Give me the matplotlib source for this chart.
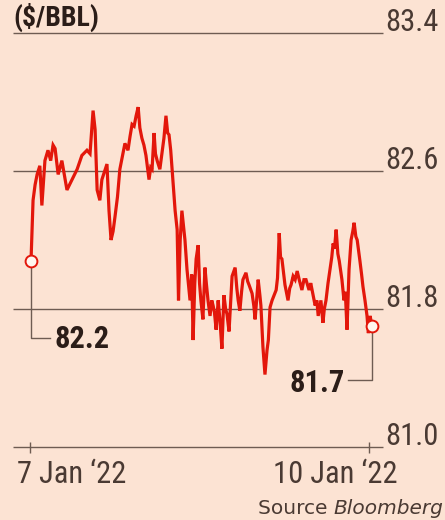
import matplotlib
matplotlib.use("Agg")
import matplotlib.pyplot as plt
from matplotlib import font_manager

# Brent crude, intraday, $/bbl  (x: 0 = 7 Jan tick, 100 = 10 Jan tick)
t = [0.3, 0.9, 1.5, 2.1, 2.9, 3.5, 4.4, 5.3, 6.1, 6.8,
     7.4, 8.3, 9.4, 10.9, 12.4, 13.9, 15.3, 16.8, 17.7, 18.6,
     19.2, 19.8, 20.6, 21.2, 22.7, 23.3, 23.9, 24.5, 25.1, 25.8,
     26.5, 27.2, 28.0, 28.9, 29.5, 30.1, 30.7, 31.3, 31.9, 32.4,
     33.0, 33.6, 34.2, 35.1, 35.6, 36.0, 36.6, 37.0, 37.5, 38.3,
     38.9, 39.5, 40.1, 40.6, 41.0, 41.5, 41.9, 42.8, 43.4, 43.8,
     44.3, 44.8, 45.7, 46.3, 47.2, 47.7, 48.1, 48.6, 49.0, 49.6,
     50.0, 50.4, 51.0, 51.6, 52.0, 52.5, 53.1, 53.6, 54.0, 54.4,
     54.9, 55.5, 56.0, 56.6, 57.2, 57.7, 58.1, 58.7, 59.2, 59.6,
     60.5, 61.0, 61.4, 61.9, 62.4, 62.8, 63.7, 64.2, 64.6, 65.5,
     66.0, 66.4, 67.3, 67.8, 68.1, 68.7, 69.3, 69.9, 70.3, 70.8,
     71.4, 72.0, 72.6, 73.0, 73.5, 73.9, 74.3, 75.2, 76.1, 76.6,
     77.0, 77.6, 78.2, 78.8, 79.4, 80.2, 80.8, 81.4, 82.3, 82.8,
     83.2, 84.1, 84.6, 85.0, 85.8, 86.4, 86.8, 87.3, 87.9, 88.5,
     89.0, 89.4, 89.8, 90.3, 90.8, 91.2, 92.0, 92.6, 93.0, 93.5,
     94.1, 94.7, 95.2, 95.6, 96.1, 96.5, 97.3, 97.8, 98.2, 98.8,
     99.4, 99.8, 100.3, 100.9]
price = [82.08, 82.43, 82.52, 82.58, 82.63, 82.40, 82.66, 82.72, 82.66, 82.75,
         82.73, 82.58, 82.66, 82.49, 82.55, 82.61, 82.69, 82.72, 82.70, 82.95,
         82.84, 82.49, 82.43, 82.55, 82.64, 82.37, 82.20, 82.25, 82.34, 82.45,
         82.61, 82.68, 82.76, 82.72, 82.80, 82.87, 82.86, 82.92, 82.97, 82.85,
         82.79, 82.75, 82.69, 82.55, 82.62, 82.61, 82.82, 82.70, 82.66, 82.61,
         82.70, 82.79, 82.92, 82.82, 82.81, 82.72, 82.61, 82.37, 82.26, 81.85,
         82.20, 82.37, 82.20, 82.03, 81.85, 82.00, 81.62, 81.95, 82.09, 82.17,
         81.95, 81.85, 81.74, 82.04, 81.95, 81.85, 81.76, 81.85, 81.82, 81.78,
         81.68, 81.85, 81.74, 81.57, 81.88, 81.80, 81.77, 81.67, 81.85, 81.99,
         82.04, 81.92, 81.85, 81.79, 81.90, 81.97, 82.01, 81.96, 81.94, 81.89,
         81.82, 81.74, 81.97, 81.88, 81.82, 81.58, 81.42, 81.56, 81.62, 81.81,
         81.85, 81.88, 81.91, 81.98, 82.24, 82.10, 82.09, 81.94, 81.85, 81.92,
         81.94, 81.99, 81.97, 82.02, 81.97, 81.91, 81.97, 81.97, 81.91, 81.95,
         81.91, 81.82, 81.85, 81.76, 81.85, 81.72, 81.80, 81.85, 81.95, 82.03,
         82.10, 82.18, 82.15, 82.26, 82.12, 82.08, 81.97, 81.85, 81.90, 81.68,
         82.03, 82.20, 82.25, 82.30, 82.22, 82.20, 82.08, 82.00, 81.93, 81.85,
         81.76, 81.66, 81.76, 81.70]
assert len(t) == len(price)

levels = [83.4, 82.6, 81.8, 81.0]
level_labels = ["83.4", "82.6", "81.8", "81.0"]
date_ticks = [0, 100]
date_labels = ["7 Jan \u201822", "10 Jan \u201822"]
start_label = "82.2"
end_label = "81.7"

BG = "#FCE3D3"
RED = "#E3170B"
GRID = "#6E5C52"
TXT = "#4A3A33"
DARK = "#2B1D18"

# condensed face if we have one (match on the real family name)
installed = {f.name for f in font_manager.fontManager.ttflist}
narrow = "DejaVu Sans"
for fam in ["Liberation Sans Narrow", "Roboto Condensed", "Open Sans Condensed"]:
    if fam in installed:
        narrow = fam
        break
big = 22 if narrow != "DejaVu Sans" else 19

fig = plt.figure(figsize=(4.45, 5.2), dpi=100, facecolor=BG)
ax = fig.add_axes([0, 0, 1, 1])
ax.set_facecolor(BG)
ax.axis("off")
# axes span the whole figure: 445 px wide, 520 px tall
ax.set_xlim(-8.85, 122.4)
ax.set_ylim(80.577, 83.591)

# gridlines + right-hand labels
ax.hlines(levels, -5.0, 104.1, color=GRID, lw=1.0, zorder=1)
for lv, lab in zip(levels, level_labels):
    ax.text(104.7, lv + 0.01, lab, ha="left", va="baseline", color=TXT,
            fontsize=big, family=narrow)

# date ticks crossing the base line
ax.vlines(date_ticks, 80.965, 81.03, color=GRID, lw=1.0)
ax.text(-3.8, 80.791, date_labels[0], ha="left", va="baseline", color=TXT,
        fontsize=big, family=narrow)
ax.text(108.3, 80.791, date_labels[1], ha="right", va="baseline", color=TXT,
        fontsize=big, family=narrow)

# price line
ax.plot(t, price, color=RED, lw=2.3, solid_joinstyle="miter", zorder=3)

# start / end markers with leaders
ax.plot([t[0], t[0], 5.9], [price[0], 81.632, 81.632], color=GRID, lw=1.0, zorder=2)
ax.plot([t[-1], t[-1], 93.8], [price[-1], 81.388, 81.388], color=GRID, lw=1.0, zorder=2)
ax.plot([t[0], t[-1]], [price[0], price[-1]], ls="none", marker="o", ms=8.5,
        mfc="#FFF7F0", mec=RED, mew=1.4, zorder=4)
ax.text(7.3, 81.625, start_label, ha="left", va="center", color=DARK,
        fontsize=big, fontweight="bold", family=narrow)
ax.text(92.9, 81.37, end_label, ha="right", va="center", color=DARK,
        fontsize=big, fontweight="bold", family=narrow)

# unit title, tucked against the top edge
ax.text(-5.0, 83.442, "($/BBL)", ha="left", va="baseline", color=DARK,
        fontsize=big - 2, fontweight="bold", family=narrow)

# source line
fig.canvas.draw()
r = fig.canvas.get_renderer()
b = ax.text(122.0, 80.612, "Bloomberg", ha="right", va="baseline", color=TXT,
            fontsize=14.5, style="italic", family="DejaVu Sans")
bb = b.get_window_extent(renderer=r)
x0 = ax.transData.inverted().transform((bb.x0, bb.y0))[0]
ax.text(x0, 80.612, "Source ", ha="right", va="baseline", color=TXT,
        fontsize=14.5, family="DejaVu Sans")

fig.savefig("out.png", dpi=100, facecolor=BG)
